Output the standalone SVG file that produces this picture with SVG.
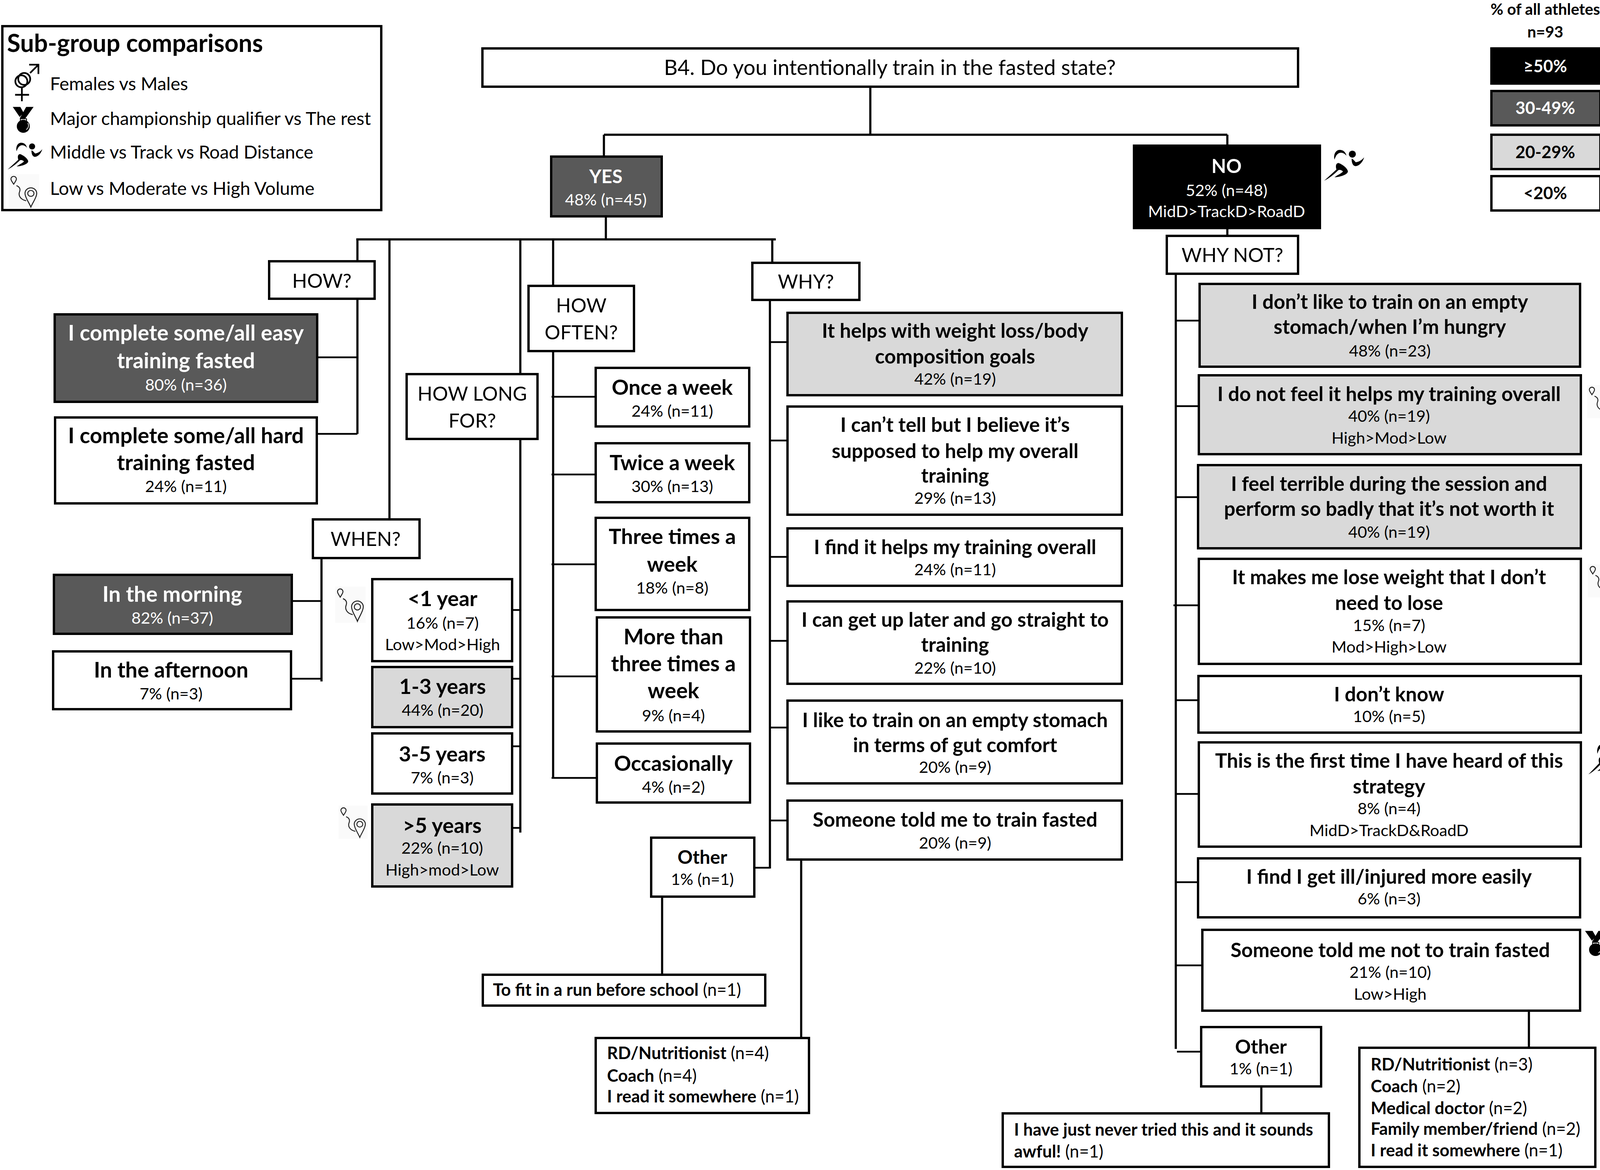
<svg xmlns="http://www.w3.org/2000/svg" xmlns:xlink="http://www.w3.org/1999/xlink" width="4158" height="2996" viewBox="0 0 4158 2996">
<style>
text{font-family:Lato,"Open Sans",sans-serif;fill:#000}
.c{text-anchor:middle}
.m{font-size:51px;font-weight:700}
.m2{font-size:55px;font-weight:700}
.m3{font-size:54px;font-weight:700}
.s{font-size:41.5px}
.q{font-size:50px}
.l{font-size:46.5px}
.h{font-size:62.5px;font-weight:700}
.k{font-size:40px;font-weight:700}
.p{font-size:43.5px;font-weight:700}
.f{font-size:43.5px;font-weight:700}
.f tspan{font-weight:400}
.w text{fill:#fff}
rect{stroke:#000;stroke-width:6;fill:#fff}
.d rect{fill:#595959}
.g rect{fill:#d9d9d9}
.n rect{fill:#000}
#connectors path{fill:none;stroke:#000;stroke-width:5.5}
#connectors path.b{stroke-width:4.5}
</style>
<defs>
<symbol id="route" viewBox="0 0 78 93" preserveAspectRatio="none">
<rect x="0" y="0" width="78" height="93" style="fill:#fafafa;stroke:none"/>
<path d="M6 13a7 7 0 1 1 14 0c0 4-4 9-7 14c-3-5-7-10-7-14z M20 31c8 3 11 9 8 17c-3 8 0 20 17 24" fill="none" stroke="#222" stroke-width="2.5"/>
<path d="M42 52a15 15 0 1 1 30 0c0 11-10 24-15 37c-5-13-15-26-15-37z" fill="none" stroke="#222" stroke-width="2.5"/>
<circle cx="57" cy="52" r="8" fill="none" stroke="#222" stroke-width="2.5"/>
</symbol>
<symbol id="runner" viewBox="20 20 315 245" preserveAspectRatio="none">
<path d="M105 100C95 60 115 25 145 25C170 25 190 40 197 70C180 50 160 42 140 50C122 58 112 78 105 100z" fill="#000"/>
<circle cx="242" cy="58" r="27" fill="#000"/>
<path d="M237 92C250 98 258 110 268 120C290 118 315 105 332 82C325 115 295 150 265 150C245 148 235 120 237 92z" fill="#000"/>
<path d="M25 262L120 175C112 150 115 128 135 125C165 135 205 165 208 190C205 215 150 232 105 235C130 215 160 205 170 190C160 180 145 175 135 180C100 215 60 245 25 262z" fill="#000"/>
</symbol>
<symbol id="medal" viewBox="20 338 165 205" preserveAspectRatio="none">
<path d="M22 340H80L105 385L75 418zM125 340H182L118 430H75z" fill="#000"/>
<path d="M80 432H128V452H80z" fill="#fff" stroke="#000" stroke-width="6"/>
<circle cx="103" cy="490" r="50" fill="#000"/>
<path d="M138 465C148 485 142 505 125 515" fill="none" stroke="#fff" stroke-width="5"/>
</symbol>
<symbol id="gender" viewBox="35 10 195 295" preserveAspectRatio="none">
<g fill="none" stroke="#000" stroke-width="13">
<circle cx="110" cy="128" r="46"/>
<circle cx="88" cy="146" r="46"/>
<path d="M92 195V300M40 250H147M148 18H219V90M219 18L155 82"/>
</g>
</symbol>
</defs>

<g id="connectors">
<path d="M2228 225V345M1546 345H3142M1546 345V398M3142 345V370"/>
<path d="M1551 557V613M912 613H1986"/>
<path d="M915 613V666M915 768V1111"/><path class="b" d="M815 915H915M814 1111H915"/>
<path d="M997 613V1329M823 1432V1745"/><path class="b" d="M750 1539H823M748 1738H823"/>
<path d="M1332 613V955M1332 1127V2132"/><path class="b" d="M1314 1562H1332M1314 1738H1332M1314 1911H1332M1314 2120H1332"/>
<path d="M1416 613V732M1416 902V1994"/><path class="b" d="M1412 1016H1522M1412 1215H1522M1412 1445H1522M1412 1732H1525M1412 1992H1525"/>
<path d="M1977 613V670M1971 771V2224"/><path class="b" d="M1971 876H2013M1971 1128H2013M1971 1426H2013M1971 1641H2013M1971 1863H2013M1971 2101H2013M1934 2222H1971"/>
<path d="M1695 2299V2493M2051 2204V2655"/>
<path d="M3142 587V601M3010 704V2686"/><path class="b" d="M3010 821H3068M3010 1040H3066M3010 1273H3064M3004 1550H3066M3010 1793H3065M3010 2033H3066M3010 2259H3064M3010 2472H3075M3013 2693H3072"/>
<path d="M3229 2785V2848M3914 2591V2680"/>
</g>

<g id="legend">
<rect x="6" y="67" width="970" height="471"/>
<text x="18" y="133" class="h">Sub-group comparisons</text>
<text x="128" y="231" class="l">Females vs Males</text>
<text x="128" y="320" class="l">Major championship qualifier vs The rest</text>
<text x="128" y="406" class="l">Middle vs Track vs Road Distance</text>
<text x="128" y="499" class="l">Low vs Moderate vs High Volume</text>
<use xlink:href="#gender" href="#gender" x="37" y="163" width="65" height="98"/>
<use xlink:href="#medal" href="#medal" x="32" y="273" width="55" height="68"/>
<use xlink:href="#runner" href="#runner" x="18" y="364" width="91" height="71"/>
<use xlink:href="#route" href="#route" x="22" y="446" width="78" height="88"/>
</g>

<g id="scale">
<text x="3956" y="38" class="c k">% of all athletes</text>
<text x="3956" y="96" class="c k">n=93</text>
<g class="n w"><rect x="3818" y="124" width="279" height="90"/><text x="3956" y="185" class="c p">≥50%</text></g>
<g class="d w"><rect x="3818" y="233" width="279" height="88"/><text x="3956" y="292" class="c p">30-49%</text></g>
<g class="g"><rect x="3818" y="345" width="279" height="88"/><text x="3956" y="405" class="c p">20-29%</text></g>
<g><rect x="3818" y="451" width="279" height="88"/><text x="3956" y="510" class="c p">&lt;20%</text></g>
</g>

<g id="q-b4"><rect x="1235" y="124" width="2088" height="98"/><text x="2278" y="192" class="c q" style="font-size:54px">B4. Do you intentionally train in the fasted state?</text></g>

<g id="yes" class="d w"><rect x="1411" y="401" width="283" height="153"/><text x="1551" y="469" class="c" style="font-size:48px;font-weight:700">YES</text><text x="1551" y="526" class="c s">48% (n=45)</text></g>
<g id="no" class="n w"><rect x="2903" y="373" width="476" height="211"/><text x="3140" y="443" class="c" style="font-size:49px;font-weight:700">NO</text><text x="3140" y="502" class="c s">52% (n=48)</text><text x="3140" y="556" class="c s">MidD&gt;TrackD&gt;RoadD</text></g>

<g id="q-how"><rect x="689" y="669" width="270" height="96"/><text x="824" y="737" class="c q">HOW?</text></g>
<g id="q-when"><rect x="801" y="1330" width="273" height="99"/><text x="936" y="1398" class="c q">WHEN?</text></g>
<g id="q-howlong"><rect x="1041" y="958" width="335" height="166"/><text x="1209" y="1026" class="c q">HOW LONG</text><text x="1209" y="1095" class="c q">FOR?</text></g>
<g id="q-howoften"><rect x="1353" y="732" width="270" height="167"/><text x="1488" y="800" class="c q">HOW</text><text x="1488" y="869" class="c q">OFTEN?</text></g>
<g id="q-why"><rect x="1926" y="673" width="274" height="95"/><text x="2063" y="739" class="c q">WHY?</text></g>
<g id="q-whynot"><rect x="2987" y="604" width="336" height="97"/><text x="3155" y="671" class="c q">WHY NOT?</text></g>

<g id="how-easy" class="d w"><rect x="140" y="805" width="672" height="224"/><text x="476" y="872" class="c m2">I complete some/all easy</text><text x="476" y="943" class="c m2">training fasted</text><text x="476" y="1000" class="c s">80% (n=36)</text></g>
<g id="how-hard"><rect x="141" y="1069" width="670" height="220"/><text x="476" y="1135" class="c m2">I complete some/all hard</text><text x="476" y="1204" class="c m2">training fasted</text><text x="476" y="1260" class="c s">24% (n=11)</text></g>

<g id="when-am" class="d w"><rect x="138" y="1472" width="609" height="151"/><text x="441" y="1541" class="c m2">In the morning</text><text x="441" y="1597" class="c s">82% (n=37)</text></g>
<g id="when-pm"><rect x="136" y="1668" width="609" height="148"/><text x="438" y="1735" class="c m2">In the afternoon</text><text x="438" y="1791" class="c s">7% (n=3)</text></g>

<g id="long-1"><rect x="953" y="1483" width="358" height="210"/><text x="1133" y="1552" class="c m3">&lt;1 year</text><text x="1133" y="1610" class="c s">16% (n=7)</text><text x="1133" y="1665" class="c s">Low&gt;Mod&gt;High</text></g>
<g id="long-2" class="g"><rect x="953" y="1708" width="358" height="154"/><text x="1133" y="1777" class="c m3">1-3 years</text><text x="1133" y="1833" class="c s">44% (n=20)</text></g>
<g id="long-3"><rect x="953" y="1878" width="358" height="154"/><text x="1132" y="1950" class="c m3">3-5 years</text><text x="1132" y="2006" class="c s">7% (n=3)</text></g>
<g id="long-4" class="g"><rect x="953" y="2060" width="358" height="210"/><text x="1132" y="2133" class="c m3">&gt;5 years</text><text x="1132" y="2186" class="c s">22% (n=10)</text><text x="1132" y="2242" class="c s">High&gt;mod&gt;Low</text></g>

<g id="often-1"><rect x="1525" y="942" width="393" height="150"/><text x="1721" y="1011" class="c m3">Once a week</text><text x="1721" y="1067" class="c s">24% (n=11)</text></g>
<g id="often-2"><rect x="1525" y="1135" width="393" height="151"/><text x="1721" y="1204" class="c m3">Twice a week</text><text x="1721" y="1260" class="c s">30% (n=13)</text></g>
<g id="often-3"><rect x="1525" y="1326" width="393" height="236"/><text x="1721" y="1393" class="c m3">Three times a</text><text x="1721" y="1464" class="c m3">week</text><text x="1721" y="1520" class="c s">18% (n=8)</text></g>
<g id="often-4"><rect x="1528" y="1581" width="392" height="292"/><text x="1724" y="1650" class="c m2">More than</text><text x="1724" y="1719" class="c m2">three times a</text><text x="1724" y="1788" class="c m2">week</text><text x="1724" y="1847" class="c s">9% (n=4)</text></g>
<g id="often-5"><rect x="1528" y="1904" width="392" height="151"/><text x="1724" y="1974" class="c m3">Occasionally</text><text x="1724" y="2030" class="c s">4% (n=2)</text></g>

<g id="why-1" class="g"><rect x="2016" y="801" width="856" height="211"/><text x="2445" y="865" class="c m">It helps with weight loss/body</text><text x="2445" y="931" class="c m">composition goals</text><text x="2445" y="985" class="c s">42% (n=19)</text></g>
<g id="why-2"><rect x="2016" y="1041" width="856" height="277"/><text x="2445" y="1106" class="c m">I can’t tell but I believe it’s</text><text x="2445" y="1173" class="c m">supposed to help my overall</text><text x="2445" y="1236" class="c m">training</text><text x="2445" y="1290" class="c s">29% (n=13)</text></g>
<g id="why-3"><rect x="2016" y="1353" width="856" height="147"/><text x="2445" y="1419" class="c m">I find it helps my training overall</text><text x="2445" y="1473" class="c s">24% (n=11)</text></g>
<g id="why-4"><rect x="2016" y="1540" width="856" height="211"/><text x="2445" y="1605" class="c m">I can get up later and go straight to</text><text x="2445" y="1669" class="c m">training</text><text x="2445" y="1725" class="c s">22% (n=10)</text></g>
<g id="why-5"><rect x="2016" y="1794" width="856" height="212"/><text x="2445" y="1862" class="c m">I like to train on an empty stomach</text><text x="2445" y="1926" class="c m">in terms of gut comfort</text><text x="2445" y="1979" class="c s">20% (n=9)</text></g>
<g id="why-6"><rect x="2016" y="2050" width="856" height="151"/><text x="2445" y="2117" class="c m">Someone told me to train fasted</text><text x="2445" y="2173" class="c s">20% (n=9)</text></g>
<g id="why-other"><rect x="1667" y="2145" width="264" height="151"/><text x="1798" y="2212" class="c" style="font-size:48px;font-weight:700">Other</text><text x="1798" y="2266" class="c s">1% (n=1)</text></g>
<g id="why-other-1"><rect x="1236" y="2496" width="723" height="79"/><text x="1262" y="2550" class="f">To fit in a run before school<tspan> (n=1)</tspan></text></g>
<g id="why-told"><rect x="1525" y="2658" width="546" height="192"/><text x="1554" y="2712" class="f">RD/Nutritionist<tspan> (n=4)</tspan></text><text x="1554" y="2770" class="f">Coach<tspan> (n=4)</tspan></text><text x="1554" y="2823" class="f">I read it somewhere<tspan> (n=1)</tspan></text></g>

<g id="not-1" class="g"><rect x="3071" y="727" width="974" height="212"/><text x="3558" y="791" class="c m">I don’t like to train on an empty</text><text x="3558" y="855" class="c m">stomach/when I’m hungry</text><text x="3558" y="913" class="c s">48% (n=23)</text></g>
<g id="not-2" class="g"><rect x="3069" y="961" width="978" height="202"/><text x="3556" y="1027" class="c m">I do not feel it helps my training overall</text><text x="3556" y="1080" class="c s">40% (n=19)</text><text x="3556" y="1136" class="c s">High&gt;Mod&gt;Low</text></g>
<g id="not-3" class="g"><rect x="3067" y="1191" width="980" height="213"/><text x="3556" y="1257" class="c m">I feel terrible during the session and</text><text x="3556" y="1321" class="c m">perform so badly that it’s not worth it</text><text x="3556" y="1377" class="c s">40% (n=19)</text></g>
<g id="not-4"><rect x="3069" y="1431" width="978" height="269"/><text x="3556" y="1496" class="c m">It makes me lose weight that I don’t</text><text x="3556" y="1562" class="c m">need to lose</text><text x="3556" y="1616" class="c s">15% (n=7)</text><text x="3556" y="1671" class="c s">Mod&gt;High&gt;Low</text></g>
<g id="not-5"><rect x="3068" y="1731" width="979" height="145"/><text x="3556" y="1796" class="c m">I don’t know</text><text x="3556" y="1849" class="c s">10% (n=5)</text></g>
<g id="not-6"><rect x="3069" y="1901" width="978" height="267"/><text x="3556" y="1966" class="c m">This is the first time I have heard of this</text><text x="3556" y="2032" class="c m">strategy</text><text x="3556" y="2085" class="c s">8% (n=4)</text><text x="3556" y="2141" class="c s">MidD&gt;TrackD&amp;RoadD</text></g>
<g id="not-7"><rect x="3067" y="2198" width="978" height="151"/><text x="3556" y="2263" class="c m">I find I get ill/injured more easily</text><text x="3556" y="2316" class="c s">6% (n=3)</text></g>
<g id="not-8"><rect x="3078" y="2381" width="967" height="207"/><text x="3559" y="2451" class="c m">Someone told me not to train fasted</text><text x="3559" y="2504" class="c s">21% (n=10)</text><text x="3559" y="2560" class="c s">Low&gt;High</text></g>
<g id="not-other"><rect x="3075" y="2630" width="307" height="152"/><text x="3228" y="2698" class="c" style="font-size:50px;font-weight:700">Other</text><text x="3228" y="2751" class="c s">1% (n=1)</text></g>
<g id="not-other-1"><rect x="2567" y="2851" width="835" height="137"/><text x="2596" y="2908" class="f">I have just never tried this and it sounds</text><text x="2596" y="2964" class="f">awful!<tspan> (n=1)</tspan></text></g>
<g id="not-told"><rect x="3480" y="2683" width="604" height="305"/><text x="3509" y="2741" class="f">RD/Nutritionist<tspan> (n=3)</tspan></text><text x="3509" y="2797" class="f">Coach<tspan> (n=2)</tspan></text><text x="3509" y="2853" class="f">Medical doctor<tspan> (n=2)</tspan></text><text x="3509" y="2906" class="f">Family member/friend<tspan> (n=2)</tspan></text><text x="3509" y="2961" class="f">I read it somewhere<tspan> (n=1)</tspan></text></g>

<g id="icons">
<use xlink:href="#runner" href="#runner" x="3388" y="382" width="105" height="82"/>
<use xlink:href="#route" href="#route" x="858" y="1502" width="78" height="93"/>
<use xlink:href="#route" href="#route" x="867" y="2063" width="74" height="85"/>
<use xlink:href="#route" href="#route" x="4063" y="986" width="74" height="85"/>
<use xlink:href="#route" href="#route" x="4065" y="1445" width="75" height="85"/>
<use xlink:href="#runner" href="#runner" x="4065" y="1904" width="91" height="80"/>
<use xlink:href="#medal" href="#medal" x="4057" y="2383" width="55" height="66"/>
</g>
</svg>
